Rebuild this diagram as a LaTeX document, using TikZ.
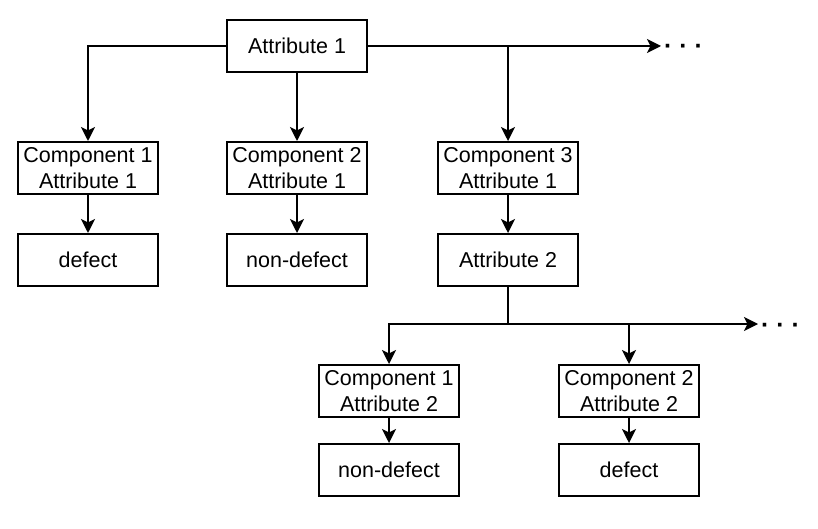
\documentclass[tikz,border=0pt]{standalone}
\usepackage{fontspec}
\setmainfont{Liberation Sans}
\usetikzlibrary{positioning,arrows.meta}

\begin{document}
\begin{tikzpicture}[x=1pt,y=1pt,on grid,
        line width=2pt,
        box/.style={rectangle,draw,minimum width=140pt,minimum height=52pt,
            align=center,font=\fontsize{21.5}{26}\selectfont},
        more/.style={anchor=west,inner sep=2pt,font=\bfseries\fontsize{25}{25}\selectfont},
        arr/.style={-{Stealth[length=14pt,width=14pt,inset=3.5pt]}}]

    \useasboundingbox (0,0) rectangle (818,-529);

    \node[box] (attr1) at (297,-46) {Attribute 1};
    \node[box] (c2a1) [below=122pt of attr1] {Component 2\\Attribute 1};
    \node[box] (c1a1) [left=209pt of c2a1] {Component 1\\Attribute 1};
    \node[box] (c3a1) [right=211pt of c2a1] {Component 3\\Attribute 1};
    \node[box] (def1) [below=92pt of c1a1] {defect};
    \node[box] (nodef1) [below=92pt of c2a1] {non-defect};
    \node[box] (attr2) [below=92pt of c3a1] {Attribute 2};
    \node[box] (c1a2) [below left=131pt and 119pt of attr2] {Component 1\\Attribute 2};
    \node[box] (c2a2) [right=240pt of c1a2] {Component 2\\Attribute 2};
    \node[box] (nodef2) [below=79pt of c1a2] {non-defect};
    \node[box] (def2) [below=79pt of c2a2] {defect};

    \node[more] (more1) at (661,-49) {· · ·};
    \coordinate (bus2) at ([yshift=40pt]c1a2.north);
    \node[more] (more2) at ([yshift=-4pt]bus2 -| 758,0) {· · ·};

    \draw[arr] (attr1.west) -| (c1a1.north);
    \draw[arr] (attr1) -- (c2a1);
    \draw[arr] (attr1.east) -- (attr1.east -| more1.west);
    \draw[arr] (attr1.east -| c3a1.north) -- (c3a1.north);

    \path[arr]
    (c1a1) edge (def1)
    (c2a1) edge (nodef1)
    (c3a1) edge (attr2)
    (c1a2) edge (nodef2)
    (c2a2) edge (def2);

    \draw[arr] (attr2.south) |- (bus2) -- (c1a2.north);
    \draw[arr] (bus2) -- (bus2 -| more2.west);
    \draw[arr] (bus2 -| c2a2.north) -- (c2a2.north);

\end{tikzpicture}
\end{document}
